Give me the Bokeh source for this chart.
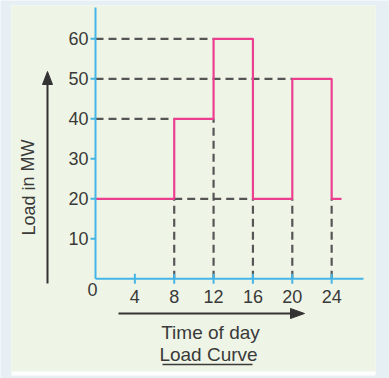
from bokeh.plotting import figure
from bokeh.models import Range1d
from bokeh.core.properties import value
from bokeh.embed import file_html
from bokeh.resources import INLINE

# ---- data ----
hours = [0, 8, 12, 16, 20, 24, 25]
load_mw = [20, 40, 60, 20, 50, 20, 20]
x_ticks = [4, 8, 12, 16, 20, 24]
x_tick_labels = ["4", "8", "12", "16", "20", "24"]
y_ticks = [10, 20, 30, 40, 50, 60]
y_tick_labels = ["10", "20", "30", "40", "50", "60"]
x_title = "Time of day"
y_title = "Load in MW"
caption = "Load Curve"

# ---- pixel <-> data mapping (canvas 389x378) ----
W, H = 389, 378
X0, XS = 95.0, 9.84   # px of hour 0, px per hour
Y0, YS = 278.3, 4.0   # px of 0 MW, px per MW

def dx(px):
    return (px - X0) / XS

def dy(py):
    return (Y0 - py) / YS

p = figure(width=W, height=H, output_backend="svg", toolbar_location=None,
           x_range=Range1d(dx(0), dx(W)), y_range=Range1d(dy(H), dy(0)),
           min_border=0, min_border_left=0, min_border_right=0,
           min_border_top=0, min_border_bottom=0)
p.axis.visible = False
p.grid.visible = False
p.outline_line_color = None
p.background_fill_color = "#e6eff3"
p.border_fill_color = "#e6eff3"

# panel
p.quad(left=[dx(11)], right=[dx(375)], top=[dy(5)], bottom=[dy(375)],
       fill_color="#ffffff", line_color=None)
p.quad(left=[dx(11)], right=[dx(375)], top=[dy(5)], bottom=[dy(371)],
       fill_color="#eff5e6", line_color=None)

dash_col = "#555555"
dash = "8 5"

# vertical dashed drop lines at each transition
trans_x, trans_top = [], []
for i in range(1, len(hours) - 1):
    trans_x.append(hours[i])
    trans_top.append(min(load_mw[i - 1], load_mw[i]))
p.segment(x0=trans_x, y0=[0] * len(trans_x), x1=trans_x, y1=trans_top,
          line_color=dash_col, line_width=2.2, line_dash=dash)

# horizontal dashed lines from axis to each level's first occurrence
levels_seen = {}
for h, l in zip(hours, load_mw):
    if l > load_mw[0] and l not in levels_seen:
        levels_seen[l] = h
hl = list(levels_seen.keys())
p.segment(x0=[0] * len(hl), y0=hl, x1=[levels_seen[l] for l in hl], y1=hl,
          line_color=dash_col, line_width=2.2, line_dash=dash)
# base level dashed line under the first peak block
p.segment(x0=[hours[1]], y0=[load_mw[0]], x1=[hours[3]], y1=[load_mw[0]],
          line_color=dash_col, line_width=2.2, line_dash=dash)

# load curve
p.step(hours, load_mw, mode="after", line_color="#ec3f8f", line_width=2.2)

# axes
axis_col = "#45b5e8"
p.segment(x0=[0], y0=[0], x1=[0], y1=[dy(7)], line_color=axis_col, line_width=2)
p.segment(x0=[0], y0=[0], x1=[dx(363)], y1=[0], line_color=axis_col, line_width=2)
p.segment(x0=[dx(X0 - 5)] * len(y_ticks), y0=y_ticks, x1=[0] * len(y_ticks), y1=y_ticks,
          line_color=axis_col, line_width=2)
p.segment(x0=x_ticks, y0=[dy(Y0 - 5)] * len(x_ticks), x1=x_ticks, y1=[dy(Y0 + 5)] * len(x_ticks),
          line_color=axis_col, line_width=2)

font = value("Liberation Sans")
txt_col = "#3a3a3a"
p.text(x=[dx(88)] * len(y_ticks), y=y_ticks, text=y_tick_labels, text_font=font,
       text_font_size="18px", text_color=txt_col, text_align="right",
       text_baseline="middle")
p.text(x=x_ticks, y=[dy(296)] * len(x_ticks), text=x_tick_labels, text_font=font,
       text_font_size="18px", text_color=txt_col, text_align="center",
       text_baseline="middle")
p.text(x=[dx(92)], y=[dy(289)], text=["0"], text_font=font,
       text_font_size="18px", text_color=txt_col, text_align="center",
       text_baseline="middle")

# titles
p.text(x=[dx(210)], y=[dy(332)], text=[x_title], text_font=font,
       text_font_size="19px", text_color=txt_col, text_align="center",
       text_baseline="middle")
p.text(x=[dx(208)], y=[dy(354)], text=[caption], text_font=font,
       text_font_size="19px", text_color=txt_col, text_align="center",
       text_baseline="middle")
p.segment(x0=[dx(162)], y0=[dy(364)], x1=[dx(252)], y1=[dy(364)],
          line_color=txt_col, line_width=1.5)
p.text(x=[dx(28)], y=[dy(187)], text=[y_title], text_font=font,
       text_font_size="18px", text_color=txt_col, text_align="center",
       text_baseline="middle", angle=1.5708)

# arrows
arr_col = "#333333"
p.segment(x0=[dx(47)], y0=[dy(283)], x1=[dx(47)], y1=[dy(82)], line_color=arr_col, line_width=2)
p.patch(x=[dx(42), dx(52), dx(47)], y=[dy(84), dy(84), dy(71)], fill_color=arr_col, line_color=arr_col)
p.segment(x0=[dx(118)], y0=[dy(313)], x1=[dx(292)], y1=[dy(313)], line_color=arr_col, line_width=2)
p.patch(x=[dx(290), dx(290), dx(304)], y=[dy(308), dy(318), dy(313)], fill_color=arr_col, line_color=arr_col)

open("out.html", "w").write(file_html(p, INLINE))
